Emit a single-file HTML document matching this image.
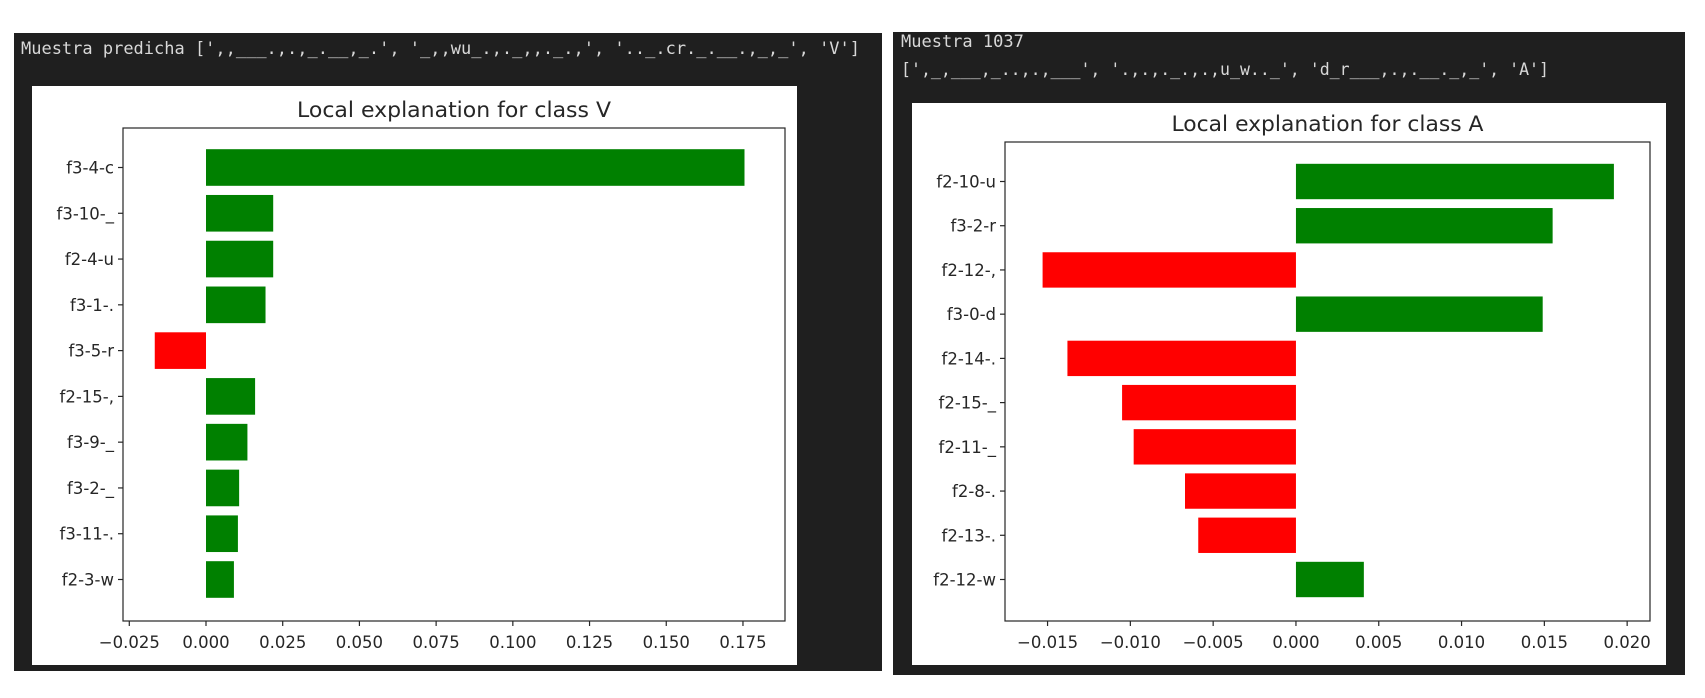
<!DOCTYPE html>
<html><head><meta charset="utf-8">
<style>
html,body{margin:0;padding:0;background:#fff;}
svg{display:block;}
.mono{font-family:"DejaVu Sans Mono","Liberation Mono",monospace;font-size:17px;fill:#d8d8d8;}
.t{font-family:"DejaVu Sans","Liberation Sans",sans-serif;fill:#262626;}
</style></head>
<body>
<svg id="s" width="1705" height="698" xmlns="http://www.w3.org/2000/svg">
  <rect x="14" y="33" width="868" height="638" fill="#1f1f1f"/>
  <rect x="893" y="32" width="792" height="643" fill="#1f1f1f"/>
  <text class="mono" x="21" y="54" textLength="839" lengthAdjust="spacingAndGlyphs">Muestra predicha [',,___.,.,_.__,_.', '_,,wu_.,._,,._.,', '.._.cr._.__.,_,_', 'V']</text>
  <text class="mono" x="901" y="47">Muestra 1037</text>
  <text class="mono" x="901" y="75" textLength="648" lengthAdjust="spacingAndGlyphs">[',_,___,_..,.,___', '.,.,._.,.,u_w.._', 'd_r___,.,.__._,_', 'A']</text>
  <rect x="32" y="86" width="765" height="579" fill="#fff"/>
  <rect x="912" y="103" width="754" height="562" fill="#fff"/>
  <g id="c1"></g>
  <g id="c2"></g>
</svg>
<script>
const leftCategories = ["f3-4-c","f3-10-_","f2-4-u","f3-1-.","f3-5-r","f2-15-,","f3-9-_","f3-2-_","f3-11-.","f2-3-w"];
const leftValues = [0.1755,0.0219,0.0219,0.0194,-0.0167,0.0160,0.0135,0.0108,0.0104,0.0091];
const leftTicks = [-0.025,0,0.025,0.05,0.075,0.1,0.125,0.15,0.175];
const leftTickLabels = ["\u22120.025","0.000","0.025","0.050","0.075","0.100","0.125","0.150","0.175"];
const rightCategories = ["f2-10-u","f3-2-r","f2-12-,","f3-0-d","f2-14-.","f2-15-_","f2-11-_","f2-8-.","f2-13-.","f2-12-w"];
const rightValues = [0.0192,0.0155,-0.0153,0.0149,-0.0138,-0.0105,-0.0098,-0.0067,-0.0059,0.0041];
const rightTicks = [-0.015,-0.01,-0.005,0,0.005,0.01,0.015,0.02];
const rightTickLabels = ["\u22120.015","\u22120.010","\u22120.005","0.000","0.005","0.010","0.015","0.020"];
const NS="http://www.w3.org/2000/svg";
function mk(parent,tag,attrs){const e=document.createElementNS(NS,tag);for(const k in attrs)e.setAttribute(k,attrs[k]);parent.appendChild(e);return e;}
function draw(g,cfg,cats,vals,ticks,tickLabels){
  const x=v=>cfg.x0+(v-cfg.xmin)/(cfg.xmax-cfg.xmin)*(cfg.x1-cfg.x0);
  const padT=39.5, padB=41.5;
  const step=(cfg.y1-cfg.y0-padT-padB)/(cats.length-1);
  const y=i=>cfg.y0+padT+step*i;
  const bh=step*0.8;
  const title=mk(g,'text',{x:(cfg.x0+cfg.x1)/2,y:cfg.y0-11,'text-anchor':'middle','font-size':'21',class:'t',textLength:cfg.titleW,lengthAdjust:'spacingAndGlyphs'});
  title.textContent=cfg.title;
  
  
  cats.forEach((c,i)=>{
    const v=vals[i];
    const r=mk(g,'rect',{x:Math.min(x(0),x(v)),y:y(i)-bh/2,width:Math.abs(x(v)-x(0)),height:bh,fill:v>=0?'#008000':'#ff0000'});
    
    
    mk(g,'line',{x1:cfg.x0-5,x2:cfg.x0,y1:y(i),y2:y(i),stroke:'#262626','stroke-width':1.2});
    const t=mk(g,'text',{x:cfg.x0-9,y:y(i)+6,'text-anchor':'end','font-size':'16.5',class:'t'});
    t.textContent=c;
    
    
  });
  ticks.forEach((tv,i)=>{
    mk(g,'line',{x1:x(tv),x2:x(tv),y1:cfg.y1,y2:cfg.y1+5,stroke:'#262626','stroke-width':1.2});
    const t=mk(g,'text',{x:x(tv),y:cfg.y1+27,'text-anchor':'middle','font-size':'16.5',class:'t'});
    t.textContent=tickLabels[i];
    
    
  });
  const fr=mk(g,'rect',{x:cfg.x0,y:cfg.y0,width:cfg.x1-cfg.x0,height:cfg.y1-cfg.y0,fill:'none',stroke:'#262626','stroke-width':1.2});
  
  
}
draw(document.getElementById('c1'),{x0:123,x1:785,y0:128,y1:621,xmin:-0.02705,xmax:0.1887,title:'Local explanation for class V',titleW:314},leftCategories,leftValues,leftTicks,leftTickLabels);
draw(document.getElementById('c2'),{x0:1005,x1:1650,y0:142,y1:621,xmin:-0.01757,xmax:0.02138,title:'Local explanation for class A',titleW:312},rightCategories,rightValues,rightTicks,rightTickLabels);
</script>
</body></html>
